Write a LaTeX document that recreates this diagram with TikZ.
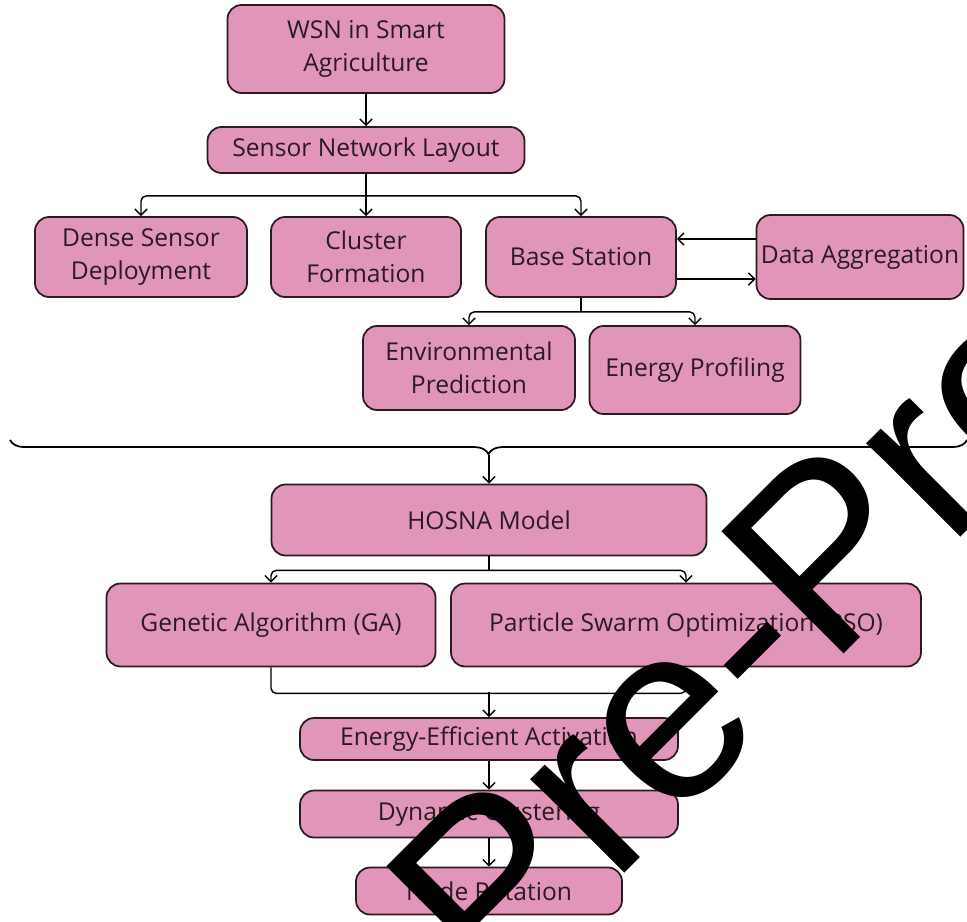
\documentclass[tikz,border=0pt]{standalone}
\usepackage{fontspec}
\setmainfont{Open Sans}
\newfontfamily\wmfont{Liberation Sans}
\usetikzlibrary{arrows.meta,decorations.pathreplacing}
\definecolor{boxpink}{HTML}{E195B8}
\definecolor{boxline}{HTML}{2B1A22}
\newlength\pxu
\setlength\pxu{0.02cm}
\tikzset{
  box/.style n args={2}{draw=boxline, fill=boxpink, line width=1pt, rounded corners=8pt,
    minimum width=#1*\pxu, minimum height=#2*\pxu,
    align=center, inner sep=0pt, text=boxline, font=\fontsize{14}{18.7}\selectfont},
  arr/.style={-{Straight Barb[length=3.5pt,width=7pt]}, line width=0.8pt},
  link/.style={line width=0.8pt, rounded corners=3pt}
}
\begin{document}
\begin{tikzpicture}[x=0.02cm, y=-0.02cm]
\useasboundingbox (0,0) rectangle (967,922);
\node[box={277}{88}] (wsn) at (366,49) {WSN in Smart\\Agriculture};
\node[box={317}{46}] (layout) at (366,150) {Sensor Network Layout};
\node[box={212}{80}] (dense) at (141,257) {Dense Sensor\\Deployment};
\node[box={190}{80}] (cluster) at (366,257) {Cluster\\Formation};
\node[box={190}{80}] (base) at (581,257) {Base Station};
\node[box={207}{84}] (agg) at (860,257) {Data Aggregation};
\node[box={212}{84}] (env) at (469,368) {Environmental\\Prediction};
\node[box={211}{88}] (prof) at (695,370) {Energy Profiling};
\node[box={435}{71}] (hosna) at (489,520) {HOSNA Model};
\node[box={329}{83}] (ga) at (271,625) {Genetic Algorithm (GA)};
\node[box={470}{83}] (pso) at (686,625) {Particle Swarm Optimization (PSO)};
\node[box={378}{42}] (eea) at (489,739) {Energy-Efficient Activation};
\node[box={378}{47}] (dyn) at (489,814) {Dynamic Clustering};
\node[box={266}{47}] (rot) at (489,891) {Node Rotation};
\draw[arr] (wsn) -- (layout);
\draw[arr] (layout.south) -- (cluster.north);
\draw[arr, link] (layout.south) ++(0,22) -| (dense.north);
\draw[arr, link] (layout.south) ++(0,22) -| (base.north);
\draw[arr] (agg.west |- 0,239) -- (base.east |- 0,239);
\draw[arr] (base.east |- 0,279) -- (agg.west |- 0,279);
\draw[line width=0.8pt] (base.south) -- ++(0,14);
\draw[arr, link] (base.south) ++(0,14) -| (env.north);
\draw[arr, link] (base.south) ++(0,14) -| (prof.north);
\draw[line width=1pt, decorate, decoration={brace, mirror, amplitude=8pt}] (10,440) -- (967,440);
\coordinate (tip) at (489,455);
\draw[arr] (tip) -- (hosna.north);
\draw[line width=0.8pt] (hosna.south) -- ++(0,14);
\draw[arr, link] (hosna.south) ++(0,14) -| (ga.north);
\draw[arr, link] (hosna.south) ++(0,14) -| (pso.north);
\draw[link] (ga.south) -- ++(0,26) -| ++(415,-6);
\coordinate (merge) at (489,692);
\draw[arr] (merge) -- (eea.north);
\draw[arr] (eea) -- (dyn);
\draw[arr] (dyn) -- (rot);
\begin{scope}
\clip (0,0) rectangle (967,922);
\node[anchor=base west, inner sep=0pt, rotate=45, font=\wmfont\fontsize{143}{143}\selectfont] (wm) at (494,1004) {Pre-Proof};
\end{scope}
\end{tikzpicture}
\end{document}
